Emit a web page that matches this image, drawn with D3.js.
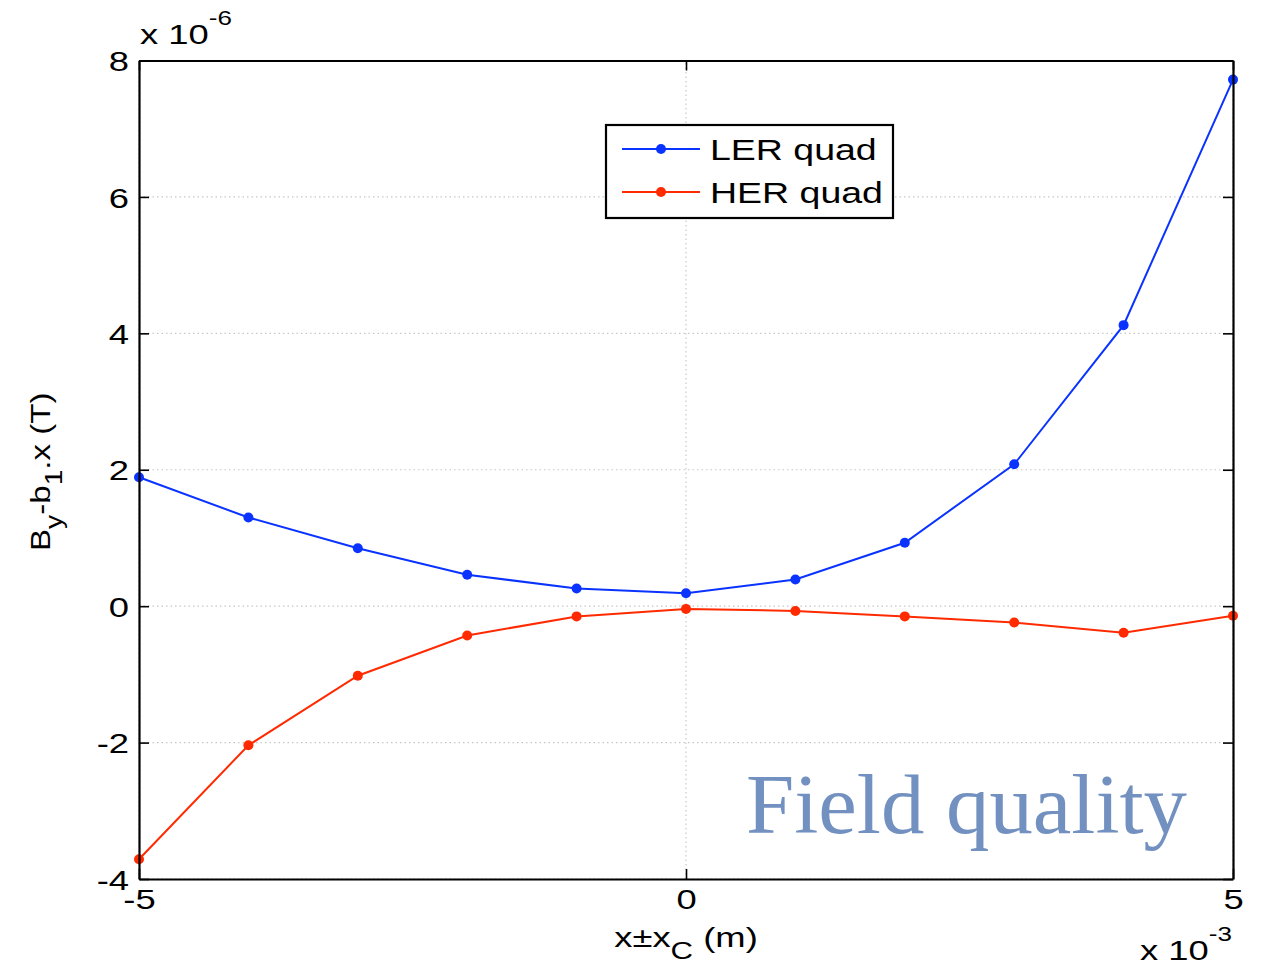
<!DOCTYPE html>
<html>
<head>
<meta charset="utf-8">
<script src="https://cdn.jsdelivr.net/npm/d3@7"></script>
<style>
	html, body { margin: 0; padding: 0; background: #fff; }
	svg { display: block; font-family: 'Liberation Sans', Arial, sans-serif; }
</style>
</head>
<body>
<svg id="graph"></svg>
<script>
;(() => {
	'use strict';

	// data (x in units of 1e-3 m, y in units of 1e-6 T)
	const xValues = [-5, -4, -3, -2, -1, 0, 1, 2, 3, 4, 5],
		lerValues = [1.89, 1.30, 0.85, 0.46, 0.26, 0.19, 0.39, 0.93, 2.08, 4.12, 7.72],
		herValues = [-3.71, -2.04, -1.02, -0.43, -0.15, -0.04, -0.07, -0.15, -0.24, -0.39, -0.14],
		seriesNames = ['LER quad', 'HER quad'],
		seriesColors = ['#0a33ff', '#ff2a00'],
		xTicks = [-5, 0, 5],
		yTicks = [-4, -2, 0, 2, 4, 6, 8];

	const width = 1265,
		height = 966,
		margin = {left: 139, right: 32, top: 60.5, bottom: 87},
		stretch = 1.3; // the original figure's text is drawn wide

	const svg = d3.select('#graph')
		.attr('width', width)
		.attr('height', height);

	const xScale = d3.scaleLinear().domain([-5, 5]).range([margin.left, width - margin.right]),
		yScale = d3.scaleLinear().domain([-4, 8]).range([height - margin.bottom, margin.top]);

	const x0 = xScale.range()[0], x1 = xScale.range()[1],
		yB = yScale.range()[0], yT = yScale.range()[1];

	// plain hyphen for negative numbers, like the original
	const fmt = d => String(d);


	/**
	* dotted grid lines
	*/
	const drawGrid = function() {
		const grid = svg.append('g').attr('class', 'grid')
			.attr('stroke', '#c8c8c8')
			.attr('stroke-width', 1.2)
			.attr('stroke-dasharray', '1.5,3');

		grid.selectAll('.gy').data(yTicks).enter().append('line')
			.attr('x1', x0).attr('x2', x1)
			.attr('y1', d => yScale(d)).attr('y2', d => yScale(d));

		grid.selectAll('.gx').data(xTicks).enter().append('line')
			.attr('y1', yB).attr('y2', yT)
			.attr('x1', d => xScale(d)).attr('x2', d => xScale(d));
	};


	/**
	* text with a horizontal stretch at (x, y)
	*/
	const wideText = function(x, y, size, k) {
		return svg.append('text')
			.attr('transform', `translate(${x},${y}) scale(${k},1)`)
			.attr('font-size', size)
			.attr('fill', '#000');
	};


	/**
	* axes with inward ticks on all four sides
	*/
	const drawAxes = function() {
		const fs = 28;

		const left = svg.append('g').attr('transform', `translate(${x0},0)`)
			.call(d3.axisLeft(yScale).tickValues(yTicks).tickSizeInner(-10).tickSizeOuter(0).tickFormat(fmt));
		const right = svg.append('g').attr('transform', `translate(${x1},0)`)
			.call(d3.axisRight(yScale).tickValues(yTicks).tickSizeInner(-10).tickSizeOuter(0).tickFormat(''));
		const bottom = svg.append('g').attr('transform', `translate(0,${yB})`)
			.call(d3.axisBottom(xScale).tickValues(xTicks).tickSizeInner(-10).tickSizeOuter(0).tickFormat(fmt));
		const top = svg.append('g').attr('transform', `translate(0,${yT})`)
			.call(d3.axisTop(xScale).tickValues(xTicks).tickSizeInner(-10).tickSizeOuter(0).tickFormat(''));

		[left, right, bottom, top].forEach((g) => {
			g.select('.domain').attr('stroke', '#000').attr('stroke-width', 2.2);
			g.selectAll('.tick line').attr('stroke', '#000').attr('stroke-width', 1.6);
			g.selectAll('.tick text')
				.attr('fill', '#000')
				.attr('font-size', fs)
				.attr('font-family', "'Liberation Sans', Arial, sans-serif");
		});
		left.selectAll('.tick text')
			.attr('transform', `scale(${stretch},1)`)
			.attr('x', -10 / stretch)
			.attr('dy', '0.36em');
		bottom.selectAll('.tick text')
			.attr('transform', `scale(${stretch},1)`)
			.attr('x', 0)
			.attr('y', 30)
			.attr('dy', 0);

		// exponent labels
		const expY = wideText(140, 44, fs, stretch);
		expY.append('tspan').text('x 10');
		expY.append('tspan').attr('font-size', 20).attr('dy', -19).text('-6');

		const expX = wideText(1140, 960, fs, stretch);
		expX.append('tspan').text('x 10');
		expX.append('tspan').attr('font-size', 20).attr('dy', -19).text('-3');

		// axis titles
		const xLabel = wideText(xScale(0), 947, fs, stretch).attr('text-anchor', 'middle');
		xLabel.append('tspan').text('x±x');
		xLabel.append('tspan').attr('font-size', 24).attr('dy', 12).text('C');
		xLabel.append('tspan').attr('dy', -12).text(' (m)');

		const yLabel = svg.append('text')
			.attr('transform', `translate(50,${(yB + yT) / 2 + 2}) rotate(-90) scale(1.18,1)`)
			.attr('text-anchor', 'middle')
			.attr('font-size', fs).attr('fill', '#000');
		yLabel.append('tspan').text('B');
		yLabel.append('tspan').attr('font-size', 24).attr('dy', 12).text('y');
		yLabel.append('tspan').attr('dy', -12).text('-b');
		yLabel.append('tspan').attr('font-size', 24).attr('dy', 12).text('1');
		yLabel.append('tspan').attr('dy', -12).text('.x (T)');
	};


	/**
	* lines and markers for both series
	*/
	const drawSeries = function() {
		const series = [lerValues, herValues];
		const line = d3.line()
			.x((d, i) => xScale(xValues[i]))
			.y(d => yScale(d));

		series.forEach((vals, s) => {
			const g = svg.append('g').attr('class', 'series');
			g.append('path')
				.datum(vals)
				.attr('d', line)
				.attr('fill', 'none')
				.attr('stroke', seriesColors[s])
				.attr('stroke-width', 2);
			g.selectAll('circle').data(vals).enter().append('circle')
				.attr('cx', (d, i) => xScale(xValues[i]))
				.attr('cy', d => yScale(d))
				.attr('r', 5)
				.attr('fill', seriesColors[s]);
		});
	};


	/**
	* legend box
	*/
	const drawLegend = function() {
		const lg = svg.append('g').attr('transform', 'translate(606,125)');
		lg.append('rect')
			.attr('width', 287).attr('height', 93)
			.attr('fill', '#fff')
			.attr('stroke', '#000').attr('stroke-width', 2.2);

		seriesNames.forEach((name, i) => {
			const yy = 24 + i * 43;
			lg.append('line')
				.attr('x1', 16).attr('x2', 94)
				.attr('y1', yy).attr('y2', yy)
				.attr('stroke', seriesColors[i]).attr('stroke-width', 2);
			lg.append('circle')
				.attr('cx', 55).attr('cy', yy).attr('r', 5)
				.attr('fill', seriesColors[i]);
			lg.append('text')
				.attr('transform', `translate(104,${yy}) scale(1.25,1)`)
				.attr('dy', '0.36em')
				.attr('font-size', 30).attr('fill', '#000')
				.text(name);
		});
	};


	/**
	* the "Field quality" annotation
	*/
	const drawAnnotation = function() {
		svg.append('text')
			.attr('x', 746).attr('y', 833)
			.attr('font-family', "'Liberation Serif', 'DejaVu Serif', serif")
			.attr('font-size', 84)
			.attr('fill', '#7391c0')
			.attr('textLength', 441)
			.attr('lengthAdjust', 'spacingAndGlyphs')
			.text('Field quality');
	};


	const init = function() {
		drawGrid();
		drawSeries();
		drawAxes();
		drawLegend();
		drawAnnotation();
	};

	document.addEventListener('DOMContentLoaded', init);

})();
</script>
</body>
</html>
